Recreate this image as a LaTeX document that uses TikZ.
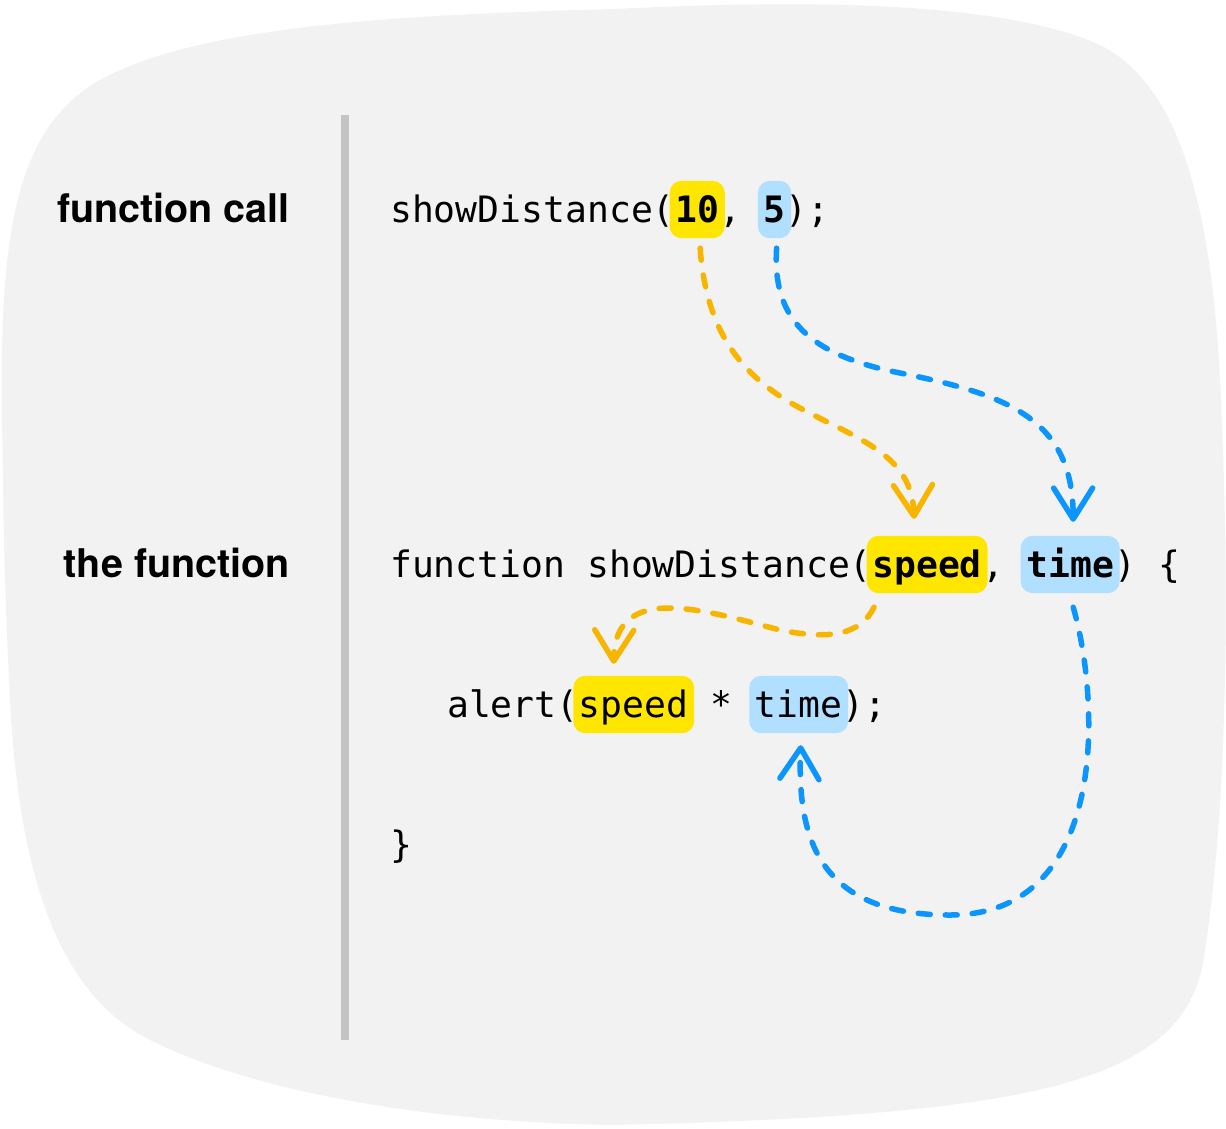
\documentclass[tikz,border=0pt]{standalone}
\usepackage{fontspec}
\usetikzlibrary{arrows.meta,calc,backgrounds}
\newfontfamily\codefont{DejaVu Sans Mono}
\newfontfamily\labelfont{TeX Gyre Heros}
\definecolor{bgc}{HTML}{F2F2F2}
\definecolor{barc}{HTML}{C4C4C4}
\definecolor{hlyellow}{HTML}{FFE600}
\definecolor{hlblue}{HTML}{B0DFFF}
\definecolor{arry}{HTML}{F7B500}
\definecolor{arrb}{HTML}{0A95FF}
\begin{document}
\begin{tikzpicture}[x=1pt,y=-1pt,
  code/.style={inner sep=0pt, anchor=base west, font=\codefont\fontsize{36.37}{40}\selectfont},
  hl/.style={code, inner xsep=5.5pt, inner ysep=0pt, text height=41pt, text depth=16pt},
  hlfill/.style={rounded corners=12pt},
  lbl/.style={inner sep=0pt, anchor=base east, font=\labelfont\bfseries\fontsize{39.5}{44}\selectfont},
  flow/.style={line width=5.5pt, dash pattern=on 12pt off 15pt, line cap=round, line join=round,
    -{Straight Barb[length=31pt,width=39pt,round]}},
]
\useasboundingbox (0,0) rectangle (1226,1128);

% divider
\draw[barc, line width=8pt] (345,115) -- (345,1040);

% labels
\node[lbl] (lcall) at (290,222) {function call};
\node[lbl] (lfun) at (290,577) {the function};

% row 1
\node[code] (r1a) at (390,222) {showDistance(};
\node[hl] (ten) at ([xshift=-5.5pt]r1a.base east) {\bfseries 10};
\node[code] (r1b) at ([xshift=-5.5pt]ten.base east) {,\phantom{0}};
\node[hl] (five) at ([xshift=-5.5pt]r1b.base east) {\bfseries 5};
\node[code] (r1c) at ([xshift=-5.5pt]five.base east) {);};

% row 2
\node[code] (r2a) at (390,577) {function showDistance(};
\node[hl] (speed) at ([xshift=-5.5pt]r2a.base east) {\bfseries speed};
\node[code] (r2b) at ([xshift=-5.5pt]speed.base east) {,\phantom{0}};
\node[hl] (time) at ([xshift=-5.5pt]r2b.base east) {\bfseries time};
\node[code] (r2c) at ([xshift=-5.5pt]time.base east) {)\phantom{0}\{};

% row 3
\node[code] (r3a) at (447,717) {alert(};
\node[hl] (speed3) at ([xshift=-5.5pt]r3a.base east) {speed};
\node[code] (r3b) at ([xshift=-5.5pt]speed3.base east) {\phantom{0}*\phantom{0}};
\node[hl] (time3) at ([xshift=-5.5pt]r3b.base east) {time};
\node[code] (r3c) at ([xshift=-5.5pt]time3.base east) {);};

% row 4
\node[code] (r4) at (390,857) {\}};

% background blob and highlights behind the code text
\begin{scope}[on background layer]
\fill[bgc] (2,420) .. controls (0,250) and (10,130) .. (100,80)
  .. controls (200,25) and (400,15) .. (613,9)
  .. controls (800,0) and (1000,0) .. (1100,45)
  .. controls (1170,80) and (1210,180) .. (1220,380)
  .. controls (1230,580) and (1228,800) .. (1205,950)
  .. controls (1190,1080) and (1050,1115) .. (613,1125)
  .. controls (420,1122) and (250,1090) .. (150,1040)
  .. controls (70,1000) and (20,900) .. (10,700)
  .. controls (3,560) and (4,520) .. cycle;
\fill[hlyellow, hlfill] (ten.south west) rectangle (ten.north east);
\fill[hlblue, hlfill] (five.south west) rectangle (five.north east);
\fill[hlyellow, hlfill] (speed.south west) rectangle (speed.north east);
\fill[hlblue, hlfill] (time.south west) rectangle (time.north east);
\fill[hlyellow, hlfill] (speed3.south west) rectangle (speed3.north east);
\fill[hlblue, hlfill] (time3.south west) rectangle (time3.north east);
\end{scope}

% connectors
\draw[flow, arry] ($(ten.south)+(3,10)$) .. controls (706,330) and (740,376) .. (800,408)
  .. controls (860,440) and (912,455) .. ($(speed.north)+(-13,-17)$);
\draw[flow, arrb] ($(five.south)+(2,10)$) .. controls (772,320) and (810,355) .. (900,373)
  .. controls (1010,395) and (1073,420) .. ($(time.north)+(3,-14)$);
\draw[flow, arry] ($(speed.south)+(-53,14)$) .. controls (860,635) and (830,640) .. (780,630)
  .. controls (710,612) and (615,580) .. ($(speed3.north)+(-20,-12)$);
\draw[flow, arrb] ($(time.south)+(3,14)$) .. controls (1100,700) and (1110,915) .. (950,915)
  .. controls (820,915) and (797,840) .. ($(time3.south)+(2,12)$);
\end{tikzpicture}
\end{document}
